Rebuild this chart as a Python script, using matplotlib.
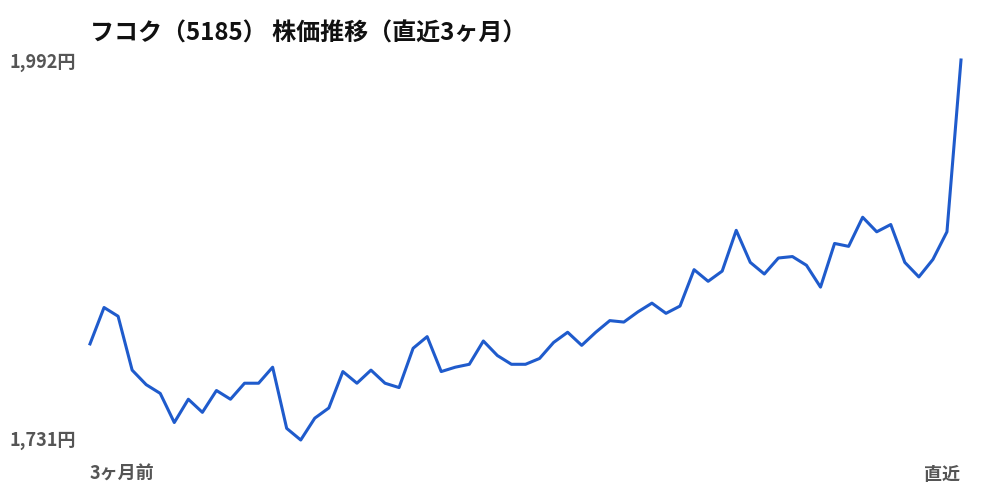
import matplotlib
matplotlib.use("Agg")
import matplotlib.pyplot as plt
import numpy as np

plt.rcParams['font.family'] = ['Noto Sans CJK JP', 'DejaVu Sans']

# 終値（約3ヶ月分、画像から読み取り）
prices = [
    1797, 1822, 1816, 1779, 1769, 1763, 1743, 1759, 1750, 1765,
    1759, 1770, 1770, 1781, 1739, 1731, 1746, 1753, 1778, 1770,
    1779, 1770, 1767, 1794, 1802, 1778, 1781, 1783, 1799, 1789,
    1783, 1783, 1787, 1798, 1805, 1796, 1805, 1813, 1812, 1819,
    1825, 1818, 1823, 1848, 1840, 1847, 1875, 1853, 1845, 1856,
    1857, 1851, 1836, 1866, 1864, 1884, 1874, 1879, 1853, 1843,
    1855, 1874, 1992,
]
title = "フコク（5185） 株価推移（直近3ヶ月）"
x_labels = ["3ヶ月前", "直近"]

y_min, y_max = min(prices), max(prices)
x = np.arange(len(prices))

fig = plt.figure(figsize=(10, 5), dpi=100)
ax = fig.add_axes([0.09, 0.12, 0.871, 0.76])

ax.plot(x, prices, color="#1f5bcc", linewidth=2.2, clip_on=False)
ax.set_xlim(0, len(prices) - 1)
ax.set_ylim(y_min, y_max)
ax.axis("off")

gray = "#555555"
fig.text(0.076, 1 - 62 / 500, f"{y_max:,}円", ha="right", va="center",
         fontsize=13, fontweight="bold", color=gray)
fig.text(0.076, 1 - 440 / 500, f"{y_min:,}円", ha="right", va="center",
         fontsize=13, fontweight="bold", color=gray)
fig.text(0.09, 1 - 474 / 500, x_labels[0], ha="left", va="center",
         fontsize=13, fontweight="bold", color=gray)
fig.text(0.96, 1 - 474 / 500, x_labels[1], ha="right", va="center",
         fontsize=13, fontweight="bold", color=gray)

fig.text(0.09, 1 - 34 / 500, title, ha="left", va="center",
         fontsize=17.3, fontweight="bold", color="#111111")

fig.savefig("out.png", dpi=100, facecolor="white")
